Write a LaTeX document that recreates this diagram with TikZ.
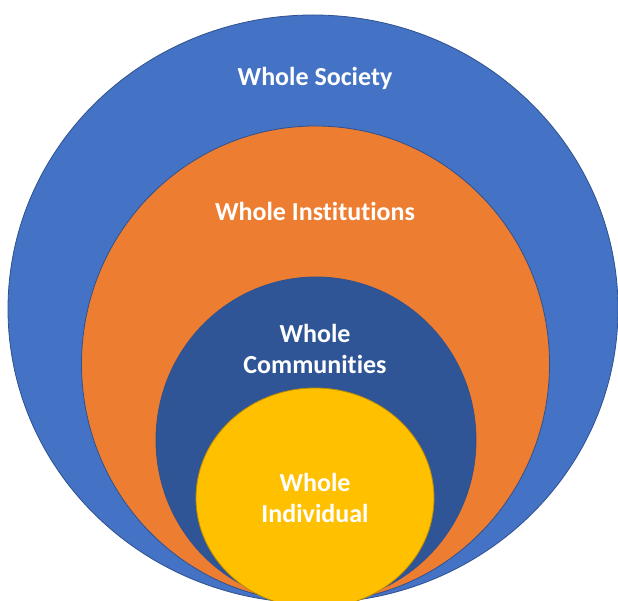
\documentclass[tikz,border=0pt]{standalone}
\usepackage{fontspec}
\setmainfont{Carlito}[Ligatures=NoCommon]
\usetikzlibrary{shapes.geometric}
\definecolor{socblue}{HTML}{4472C4}
\definecolor{instorange}{HTML}{ED7D31}
\definecolor{commblue}{HTML}{2F5597}
\definecolor{indyellow}{HTML}{FFC000}
\definecolor{rimblue}{HTML}{2F528F}
\definecolor{rimyellow}{HTML}{BC8C00}
\tikzset{
  ring/.style={ellipse, inner sep=0pt, line width=0.8pt},
  lbl/.style={text=white, font=\fontsize{26}{31}\selectfont\bfseries, align=center, inner sep=0pt}
}
\begin{document}
\begin{tikzpicture}[x=1pt,y=-1pt]
\useasboundingbox (0,0) rectangle (618,601);
\fill[white] (0,0) rectangle (618,601);
\node[ring, draw=rimblue, fill=socblue, minimum width=610pt, minimum height=588pt] (society) at (313,309) {};
\node[ring, draw=rimblue, fill=instorange, minimum width=468pt, minimum height=476pt] (institutions) at (315.5,364) {};
\node[ring, draw=rimblue, fill=commblue, minimum width=320pt, minimum height=326pt] (communities) at (316,440) {};
\node[ring, draw=rimyellow, fill=indyellow, minimum width=238pt, minimum height=220pt] (individual) at (315,498) {};
\node[lbl] (tsociety) at (315,78) {Whole Society};
\node[lbl] (tinstitutions) at (315,211) {Whole Institutions};
\node[lbl] (tcommunities) at (315,349) {Whole\\Communities};
\node[lbl] (tindividual) at (315,498) {Whole\\Individual};
\end{tikzpicture}
\end{document}
